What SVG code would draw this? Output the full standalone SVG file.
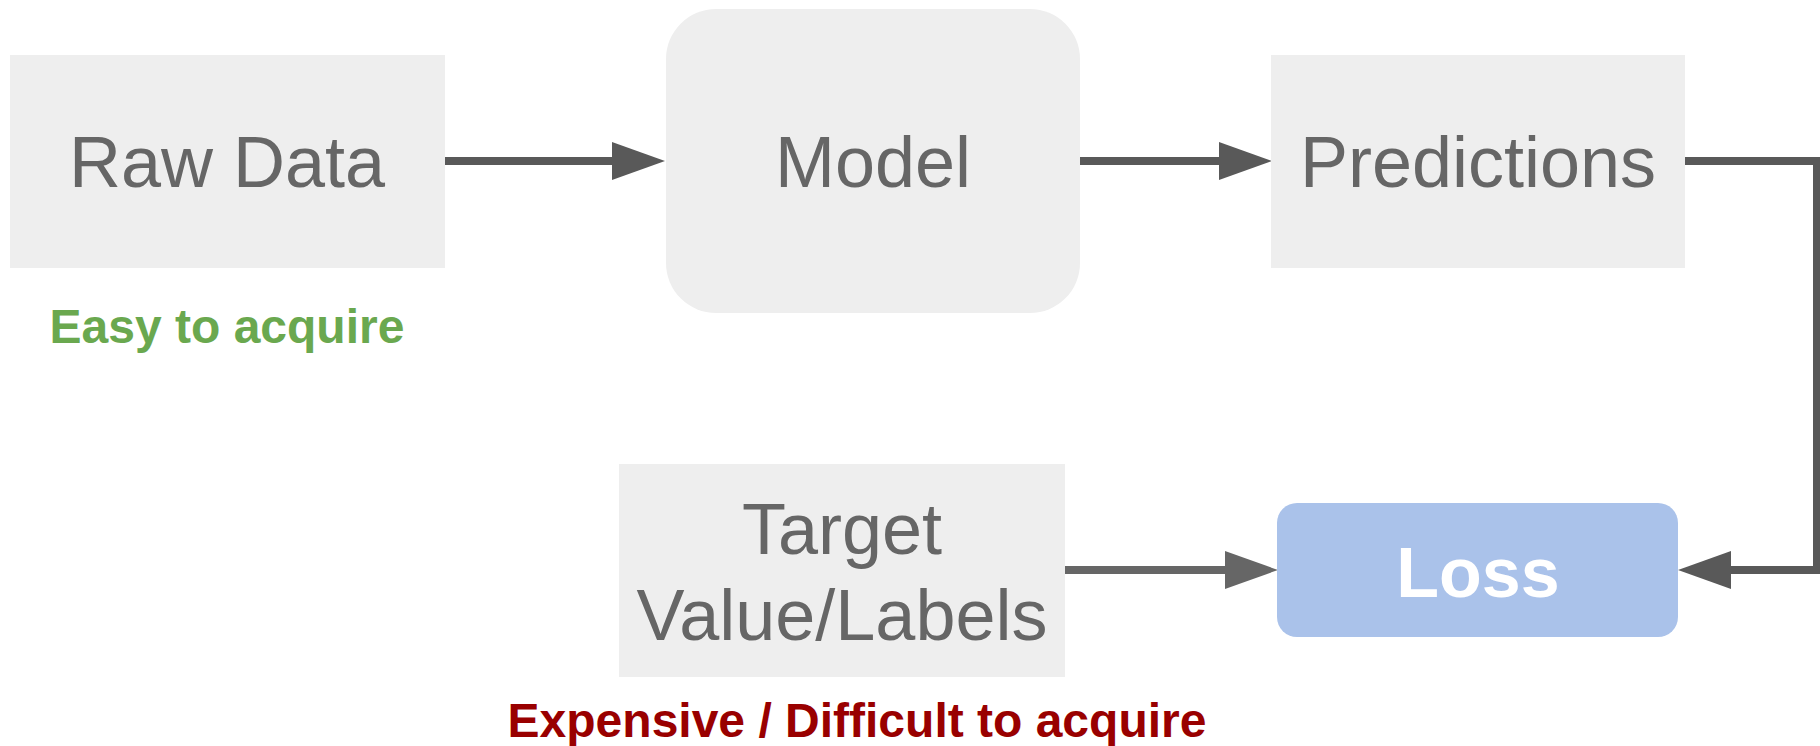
<svg xmlns="http://www.w3.org/2000/svg" width="1820" height="746" viewBox="0 0 1820 746">
<style>
.box{fill:#eeeeee}
.lbl{font-family:"Liberation Sans",Arial,Helvetica,sans-serif;font-size:72px;fill:#666666;text-anchor:middle}
.note{font-family:"Liberation Sans",Arial,Helvetica,sans-serif;font-size:48px;font-weight:bold;text-anchor:middle}
.conn{fill:none;stroke:#595959;stroke-width:8}
</style>
<defs>
<marker id="ah" markerUnits="userSpaceOnUse" markerWidth="53" markerHeight="38" refX="0" refY="19" orient="auto" viewBox="0 0 53 38">
<path d="M0,0 L53,19 L0,38 z" fill="#595959"/>
</marker>
<marker id="ah2" markerUnits="userSpaceOnUse" markerWidth="53" markerHeight="38" refX="0" refY="19" orient="auto" viewBox="0 0 53 38">
<path d="M0,0 L53,19 L0,38 z" fill="#666666"/>
</marker>
</defs>
<rect width="1820" height="746" fill="#ffffff"/>
<g id="connectors">
<path class="conn" d="M445,161 H612" marker-end="url(#ah)"/>
<path class="conn" d="M1080,161 H1219" marker-end="url(#ah)"/>
<path class="conn" d="M1685,161 H1817 V570 H1731" marker-end="url(#ah)"/>
<path class="conn" d="M1065,570 H1225" style="stroke:#666666" marker-end="url(#ah2)"/>
</g>
<g id="raw-data">
<rect class="box" x="10" y="55" width="435" height="213"/>
<text class="lbl" x="227" y="187">Raw Data</text>
</g>
<g id="easy-label">
<text class="note" x="227" y="343" fill="#6aa84f">Easy to acquire</text>
</g>
<g id="model">
<rect class="box" x="666" y="9" width="414" height="304" rx="50" ry="50"/>
<text class="lbl" x="873" y="187">Model</text>
</g>
<g id="predictions">
<rect class="box" x="1271" y="55" width="414" height="213"/>
<text class="lbl" x="1478" y="187">Predictions</text>
</g>
<g id="target">
<rect class="box" x="619" y="464" width="446" height="213"/>
<text class="lbl" x="842" y="554">Target</text>
<text class="lbl" x="842" y="640">Value/Labels</text>
</g>
<g id="expensive-label">
<text class="note" x="857" y="737" fill="#990000">Expensive / Difficult to acquire</text>
</g>
<g id="loss">
<rect x="1277" y="503" width="401" height="134" rx="20" ry="20" fill="#aac2ea"/>
<text x="1478" y="597" font-family="'Liberation Sans',Arial,Helvetica,sans-serif" font-size="70" font-weight="bold" fill="#ffffff" text-anchor="middle">Loss</text>
</g>
</svg>
